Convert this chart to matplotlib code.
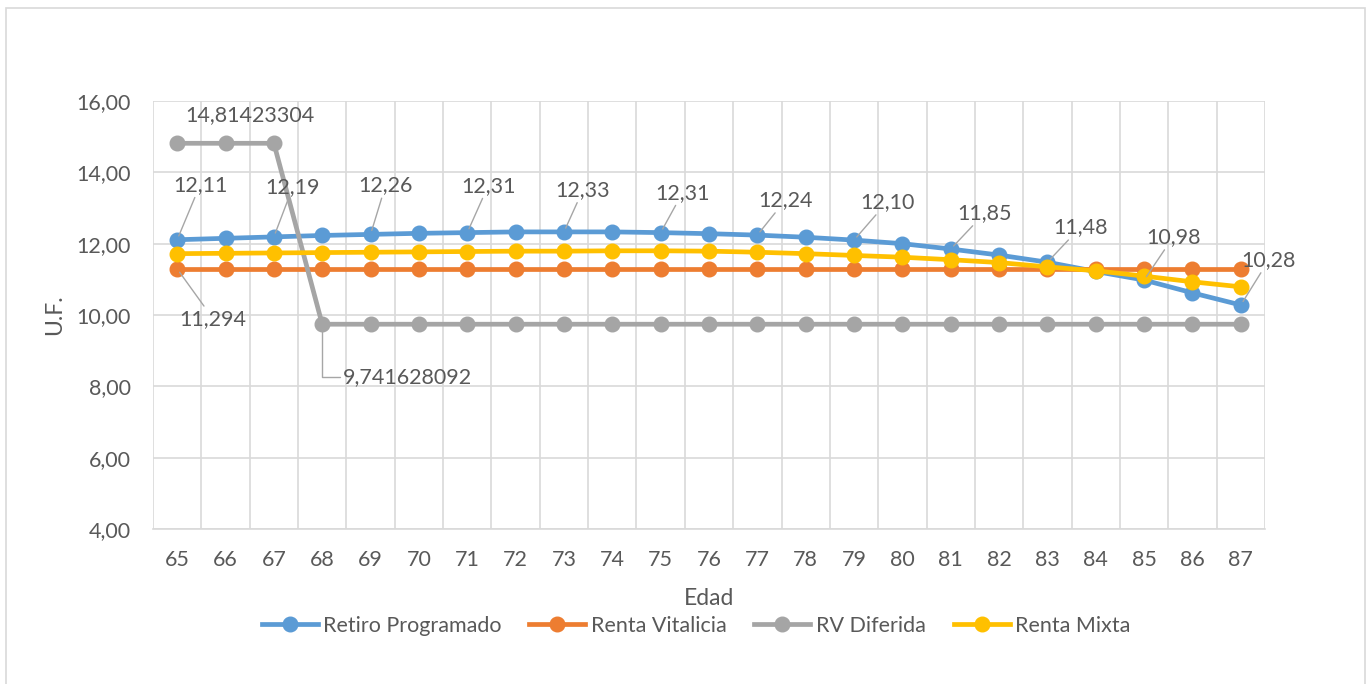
import matplotlib
matplotlib.use("Agg")
import matplotlib.pyplot as plt
from matplotlib.patches import Rectangle
from matplotlib.ticker import FuncFormatter

plt.rcParams['font.family'] = ['Lato', 'DejaVu Sans']

ages = list(range(65, 88))
retiro_programado = [12.11, 12.15, 12.19, 12.23, 12.26, 12.29, 12.31, 12.33, 12.33, 12.33, 12.31, 12.28,
                     12.24, 12.18, 12.10, 12.00, 11.85, 11.68, 11.48, 11.22, 10.98, 10.62, 10.28]
renta_vitalicia = [11.294] * 23
rv_diferida = [14.81423304] * 3 + [9.741628092] * 20
renta_mixta = [11.72, 11.73, 11.74, 11.75, 11.76, 11.77, 11.78, 11.79, 11.79, 11.80, 11.80, 11.79,
               11.76, 11.72, 11.67, 11.62, 11.55, 11.47, 11.35, 11.24, 11.09, 10.93, 10.79]

series_names = ["Retiro Programado", "Renta Vitalicia", "RV Diferida", "Renta Mixta"]
series_values = [retiro_programado, renta_vitalicia, rv_diferida, renta_mixta]
colors = ["#5B9BD5", "#ED7D31", "#A5A5A5", "#FFC000"]

y_ticks = [4, 6, 8, 10, 12, 14, 16]

# labelled points of Retiro Programado and their label offsets (pixels)
rp_label_idx = [0, 2, 4, 6, 8, 10, 12, 14, 16, 18, 20, 22]
rp_label_txt = ["12,11", "12,19", "12,26", "12,31", "12,33", "12,31", "12,24", "12,10",
                "11,85", "11,48", "10,98", "10,28"]
rp_offsets = [(23, 55), (19, 50), (15, 49), (21, 47), (19, 42), (22, 40), (28, 35), (33, 38),
              (34, 36), (33, 35), (29, 43), (28, 45)]

TXT = "#595959"
GRID = "#D9D9D9"
LEAD = "#A6A6A6"
FS = 15.5

fig = plt.figure(figsize=(13.67, 6.84), dpi=100)
fig.patches.append(Rectangle((6 / 1367, -0.02), 1359 / 1367, 1 - 8 / 684 + 0.02,
                             transform=fig.transFigure, fill=False, edgecolor=GRID,
                             linewidth=1.2))

ax = fig.add_axes([153 / 1367, 1 - 529 / 684, (1265 - 153) / 1367, (529 - 101) / 684])
x = list(range(len(ages)))
for name, vals, c in zip(series_names, series_values, colors):
    ax.plot(x, vals, color=c, linewidth=3.4, marker='o', markersize=10.5, label=name,
            solid_joinstyle='round', zorder=3)

ax.set_xlim(-0.5, len(ages) - 0.5)
ax.set_ylim(4, 16)
ax.set_yticks(y_ticks)
ax.yaxis.set_major_formatter(FuncFormatter(lambda v, p: f"{v:.2f}".replace('.', ',')))
ax.set_xticks(x)
ax.set_xticklabels([str(a) for a in ages])
ax.set_xticks([i - 0.5 for i in range(len(ages) + 1)], minor=True)
ax.grid(True, axis='y', which='major', color=GRID, linewidth=1.2, zorder=0)
ax.grid(True, axis='x', which='minor', color=GRID, linewidth=1.2, zorder=0)
ax.grid(False, axis='x', which='major')
for s in ['top', 'right', 'left']:
    ax.spines[s].set_visible(False)
ax.spines['bottom'].set_color(GRID)
ax.spines['bottom'].set_linewidth(1.2)
ax.tick_params(axis='both', which='both', length=0, colors=TXT, labelsize=FS)
ax.tick_params(axis='y', pad=16)
ax.tick_params(axis='x', pad=15)
ax.set_xlabel("Edad", fontsize=FS + 1, color=TXT, labelpad=13)
ax.set_ylabel("U.F.", fontsize=FS + 1, color=TXT, labelpad=8)

arrow = dict(arrowstyle='-', color=LEAD, linewidth=1.0, shrinkA=0, shrinkB=3)
for i, t, off in zip(rp_label_idx, rp_label_txt, rp_offsets):
    ax.annotate(t, xy=(x[i], retiro_programado[i]), xytext=off, textcoords='offset pixels',
                ha='center', va='center', fontsize=FS, color=TXT, arrowprops=arrow,
                annotation_clip=False, zorder=5)

ax.annotate("11,294", xy=(x[0], renta_vitalicia[0]), xytext=(36, -50), textcoords='offset pixels',
            ha='center', va='center', fontsize=FS, color=TXT, arrowprops=arrow, zorder=5)
ax.annotate("14,81423304", xy=(x[0], rv_diferida[0]), xytext=(73, 28), textcoords='offset pixels',
            ha='center', va='center', fontsize=FS, color=TXT, zorder=5)
ax.annotate("9,741628092", xy=(x[3], rv_diferida[3]), xytext=(21, -53), textcoords='offset pixels',
            ha='left', va='center', fontsize=FS, color=TXT, zorder=5,
            arrowprops=dict(arrowstyle='-', color=LEAD, linewidth=1.0, shrinkA=0, shrinkB=3,
                            relpos=(0, 0.5), connectionstyle="angle,angleA=0,angleB=90,rad=0"))

leg = fig.legend(loc='center', bbox_to_anchor=(696 / 1367, 1 - 626 / 684), ncol=4, frameon=False,
                 fontsize=15.5, handlelength=2.6, handletextpad=0.25, columnspacing=1.3,
                 labelcolor=TXT)

fig.savefig("out.png", dpi=100)
